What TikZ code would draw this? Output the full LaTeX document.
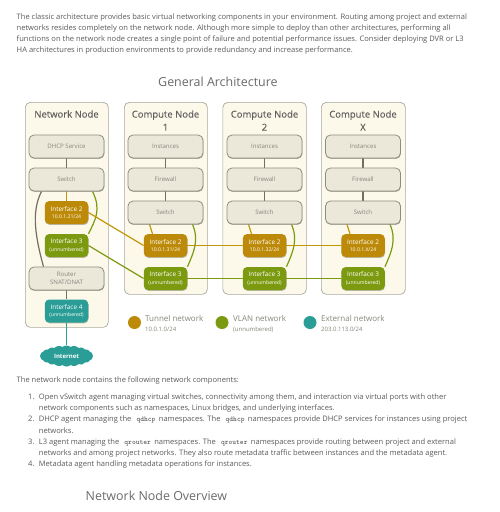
\documentclass[tikz,border=0pt]{standalone}
\usepackage{fontspec}
\setmainfont{Open Sans}
\usetikzlibrary{shapes.symbols,shadows}
\pgfdeclarelayer{panels}
\pgfdeclarelayer{edges}
\pgfsetlayers{panels,edges,main}
\definecolor{tunnel}{HTML}{BC8A08}
\definecolor{vlan}{HTML}{7C9A10}
\definecolor{extnet}{HTML}{2A9D96}
\definecolor{panelfill}{HTML}{FDF9EA}
\definecolor{panelline}{HTML}{A8A8A0}
\definecolor{boxfill}{HTML}{EBE8DA}
\definecolor{boxline}{HTML}{70705F}
\definecolor{bodytxt}{HTML}{5A5A5A}
\definecolor{lighttxt}{HTML}{86867C}
\tikzset{
  x=1pt,y=-1pt,
  panel/.style={draw=panelline,fill=panelfill,rounded corners=5pt,line width=.7pt,anchor=north west,inner sep=0pt},
  gbox/.style={draw=boxline!80,fill=boxfill,rounded corners=5pt,line width=.8pt,minimum width=75pt,minimum height=23pt,inner sep=0pt,align=center,text=lighttxt,font=\fontsize{6.1}{8.3}\selectfont,drop shadow={shadow xshift=.4pt,shadow yshift=-.9pt,opacity=.55,fill=boxline}},
  ifbox/.style={draw=none,fill=#1,rounded corners=4.5pt,minimum width=43.5pt,minimum height=23pt,inner sep=0pt,align=center,text=white,font=\fontsize{6.4}{7.3}\selectfont,drop shadow={shadow xshift=.3pt,shadow yshift=-.9pt,opacity=.45,fill=boxline}},
  para/.style={anchor=base west,inner sep=0pt,text=bodytxt,font=\fontsize{7.55}{9}\selectfont},
  ptitle/.style={anchor=center,inner sep=0pt,align=center,text=black!62,font=\fontsize{9.5}{13}\selectfont\addfontfeature{FakeBold=0.25}},
  heading/.style={anchor=base west,inner sep=0pt,text=black!58,font=\fontsize{12.45}{16}\selectfont},
  legt/.style={anchor=base west,inner sep=0pt,text=lighttxt,font=\fontsize{8}{9}\selectfont},
  legs/.style={anchor=base west,inner sep=0pt,text=lighttxt,font=\fontsize{6}{7}\selectfont},
  dot/.style={circle,fill=#1,draw=none,minimum size=13pt,inner sep=0pt},
  darkline/.style={draw=boxline,line width=1.2pt},
  tunline/.style={draw=tunnel!90!yellow,line width=1.2pt},
  vlanline/.style={draw=vlan,line width=1.2pt},
  extline/.style={draw=extnet,line width=1.2pt},
}
\newcommand{\smalltxt}{\fontsize{5.1}{6}\selectfont}
\newcommand{\cmd}[1]{\kern3.2pt{\fontsize{7.2}{9}\selectfont\ttfamily\bfseries #1}\kern3.4pt}
\begin{document}
\begin{tikzpicture}
\useasboundingbox (0,0) rectangle (500,512);
\begin{pgfonlayer}{panels}
\fill[white] (0,0) rectangle (500,512);
\node[panel,minimum width=83pt,minimum height=225pt] (pn) at (25,102) {};
\node[panel,minimum width=83pt,minimum height=192pt] (p1) at (124,102) {};
\node[panel,minimum width=83.5pt,minimum height=192pt] (p2) at (222.5,102) {};
\node[panel,minimum width=84pt,minimum height=192pt] (p3) at (321,102) {};
\end{pgfonlayer}
% intro
\node[para] (l1) at (16.5,19) {The classic architecture provides basic virtual networking components in your environment. Routing among project and external};
\node[para] (l2) at (16.5,30) {networks resides completely on the network node. Although more simple to deploy than other architectures, performing all};
\node[para] (l3) at (16.5,41.3) {functions on the network node creates a single point of failure and potential performance issues. Consider deploying DVR or L3};
\node[para] (l4) at (16.5,52.5) {HA architectures in production environments to provide redundancy and increase performance.};
\node[heading] (h1) at (158,86) {General Architecture};
\node[ptitle] (tn) at (66.5,114) {Network Node};
\node[ptitle] (t1) at (165.5,120.5) {Compute Node\\1};
\node[ptitle] (t2) at (264.5,120.5) {Compute Node\\2};
\node[ptitle] (t3) at (363,120.5) {Compute Node\\X};
% network node
\node[gbox] (dhcp) at (66.5,146.5) {DHCP Service};
\node[gbox] (nsw) at (66.5,179.5) {Switch};
\node[ifbox=tunnel] (ni2) at (66.5,212.5) {Interface 2\\{\smalltxt 10.0.1.21/24}};
\node[ifbox=vlan] (ni3) at (66.5,245.5) {Interface 3\\{\smalltxt (unnumbered)}};
\node[gbox] (rt) at (66.5,278.5) {Router\\SNAT/DNAT};
\node[ifbox=extnet] (ni4) at (66.5,311) {Interface 4\\{\smalltxt (unnumbered)}};
\node[cloud,cloud puffs=20,cloud puff arc=80,aspect=2.8,fill=extnet,draw=none,minimum width=53pt,minimum height=21pt,inner sep=0pt,text=white,font=\fontsize{6}{7}\selectfont\bfseries] (inet) at (66.5,356) {Internet};
% compute nodes
\foreach \n/\cx/\m in {a/165.5/31,b/264.5/32,c/363/X}{
  \node[gbox] (inst\n) at (\cx,146.5) {Instances};
  \node[gbox] (fw\n) at (\cx,179.5) {Firewall};
  \node[gbox] (sw\n) at (\cx,212.5) {Switch};
  \node[ifbox=tunnel] (if2\n) at (\cx,245.5) {Interface 2\\{\smalltxt 10.0.1.\m/24}};
  \node[ifbox=vlan] (if3\n) at (\cx,278.5) {Interface 3\\{\smalltxt (unnumbered)}};
}
% connectors
\begin{pgfonlayer}{edges}
\draw[darkline] (dhcp) -- (nsw);
\draw[tunline] (nsw) -- (ni2);
\draw[darkline] (rt) -- (ni4);
\draw[extline] (ni4) -- (inet);
\draw[darkline] ([xshift=-25pt]nsw.south) .. controls +(-9,18) and +(-10,-36) .. ([xshift=-23pt]rt.north);
\draw[vlanline] ([xshift=26pt]nsw.south) .. controls +(9,18) and +(7,-14) .. (ni3.north east);
\draw[tunline] (ni2.east) -- (if2a.west);
\draw[vlanline] (ni3.east) -- (if3a.west);
\draw[tunline] (if2a) -- (if2b);
\draw[tunline] (if2b) -- (if2c);
\draw[vlanline] (if3a) -- (if3b);
\draw[vlanline] (if3b) -- (if3c);
\foreach \n in {a,b,c}{
  \draw[darkline] (inst\n) -- (fw\n);
  \draw[darkline] (fw\n) -- (sw\n);
  \draw[tunline] ([xshift=-16pt]sw\n.south) -- ([xshift=-13pt]if2\n.north);
  \draw[vlanline] ([xshift=27pt]sw\n.south) .. controls +(7,16) and +(6,-14) .. (if3\n.north east);
}
\end{pgfonlayer}
% legend
\node[dot=tunnel] (d1) at (134.5,322.5) {};
\node[dot=vlan] (d2) at (222,322.5) {};
\node[dot=extnet] (d3) at (310,322.5) {};
\node[legt] (lt1) at (145,321.5) {Tunnel network};
\node[legs] (ls1) at (145,331) {10.0.1.0/24};
\node[legt] (lt2) at (233,321.5) {VLAN network};
\node[legs] (ls2) at (233,331) {(unnumbered)};
\node[legt] (lt3) at (321,321.5) {External network};
\node[legs] (ls3) at (321,331) {203.0.113.0/24};
% lower text
\node[para] (m0) at (16.5,382.5) {The network node contains the following network components:};
\node[para] (n1) at (28,399.5) {1.};
\node[para] (a1) at (38.7,399.5) {Open vSwitch agent managing virtual switches, connectivity among them, and interaction via virtual ports with other};
\node[para] (a2) at (38.7,410.7) {network components such as namespaces, Linux bridges, and underlying interfaces.};
\node[para] (n2) at (28,421.9) {2.};
\node[para] (b1) at (38.7,421.9) {DHCP agent managing the \cmd{qdhcp} namespaces. The \cmd{qdhcp} namespaces provide DHCP services for instances using project};
\node[para] (b2) at (38.7,433.1) {networks.};
\node[para] (n3) at (28,444.3) {3.};
\node[para] (c1) at (38.7,444.3) {L3 agent managing the \cmd{qrouter} namespaces. The \cmd{qrouter} namespaces provide routing between project and external};
\node[para] (c2) at (38.7,455.5) {networks and among project networks. They also route metadata traffic between instances and the metadata agent.};
\node[para] (n4) at (28,466.7) {4.};
\node[para] (d4) at (38.7,466.7) {Metadata agent handling metadata operations for instances.};
\node[heading] (h2) at (85.5,500) {Network Node Overview};
\end{tikzpicture}
\end{document}
